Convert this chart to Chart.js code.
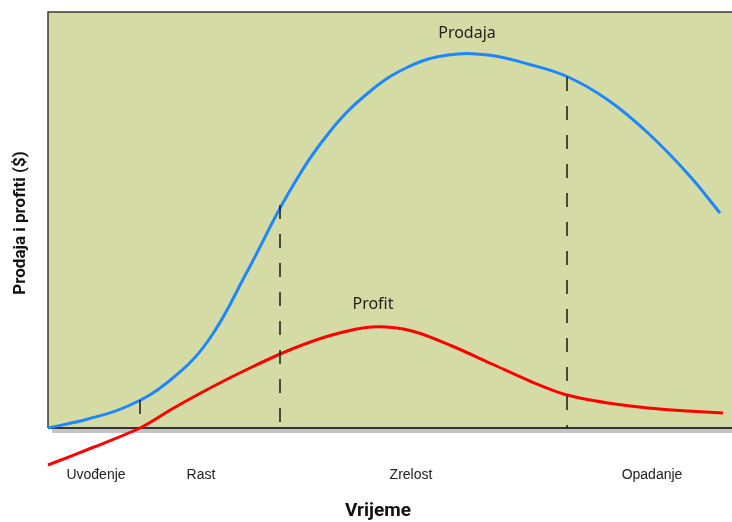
<!DOCTYPE html>
<html>
<head>
<meta charset="utf-8">
<script src="https://cdn.jsdelivr.net/npm/chart.js@4"></script>
<style>
html,body{margin:0;padding:0;background:#fff;}
#wrap{width:732px;height:522px;position:relative;}
</style>
</head>
<body>
<div id="wrap"><canvas id="c" width="732" height="522"></canvas></div>
<script>
// Sales (Prodaja) curve: time vs. value
const salesT = [0,40,80,120,160,200,240,280,320,360,400,440,480,520,560,600,640,672];
const salesV = [0,9,22,46,87,158,234,294,335,361,373,373,364,351,328,295,254,215];
// Profit curve
const profitT = [0,46,92,124,164,204,244,284,324,364,404,444,484,519,560,600,640,675];
const profitV = [-37,-19,0,19,41,61,79,93,101,97,82,64,46,33,25,20,17,15];
// Stage boundaries (dashed lines)
const boundaryT = [92, 232, 519];
const boundaryTop = [28, 223, 351];
// Stage labels
const stageLabels = ['Uvođenje', 'Rast', 'Zrelost', 'Opadanje'];
const stageLabelT = [48, 153, 363, 604];
// Series labels
const seriesLabels = ['Prodaja', 'Profit'];
const seriesLabelPos = [[419, 395], [325, 124]];
const xTitle = 'Vrijeme';
const yTitle = 'Prodaja i profiti ($)';

const pts = (xs, ys) => xs.map((x, i) => ({x: x, y: ys[i]}));

const datasets = [];
boundaryT.forEach((t, i) => {
  datasets.push({
    data: [{x: t, y: boundaryTop[i]}, {x: t, y: 0}],
    borderColor: '#1a1a1a', borderWidth: 1.5, borderDash: [14, 15],
    pointRadius: 0, tension: 0, clip: false
  });
});
datasets.push({
  data: pts(profitT, profitV), borderColor: '#ff0000', borderWidth: 3,
  pointRadius: 0, tension: 0.3, clip: false
});
datasets.push({
  data: pts(salesT, salesV), borderColor: '#1e87ff', borderWidth: 3,
  pointRadius: 0, tension: 0.4, clip: false
});

const decor = {
  id: 'decor',
  beforeDatasetsDraw(chart) {
    const {ctx, chartArea: a} = chart;
    ctx.save();
    ctx.fillStyle = '#d4dba5';
    ctx.fillRect(a.left, a.top, a.right - a.left, a.bottom - a.top);
    ctx.fillStyle = '#c4c4c4';
    ctx.fillRect(a.left + 4, a.bottom + 1, a.right - a.left, 4);
    ctx.strokeStyle = '#3a3a3a';
    ctx.lineWidth = 1.5;
    ctx.beginPath();
    ctx.moveTo(a.right, a.top); ctx.lineTo(a.left, a.top); ctx.lineTo(a.left, a.bottom);
    ctx.stroke();
    ctx.lineWidth = 2;
    ctx.strokeStyle = '#333';
    ctx.beginPath();
    ctx.moveTo(a.left, a.bottom); ctx.lineTo(a.right, a.bottom);
    ctx.stroke();
    ctx.restore();
  },
  afterDraw(chart) {
    const {ctx, chartArea: a, scales: {x, y}} = chart;
    ctx.save();
    ctx.fillStyle = '#222';
    ctx.textAlign = 'center';
    ctx.textBaseline = 'middle';
    ctx.font = '14px "Liberation Sans", Arial, sans-serif';
    stageLabels.forEach((s, i) => {
      ctx.fillText(s, x.getPixelForValue(stageLabelT[i]), a.bottom + 47);
    });
    ctx.font = '16px "Noto Sans", "Open Sans", sans-serif';
    seriesLabels.forEach((s, i) => {
      ctx.fillText(s, x.getPixelForValue(seriesLabelPos[i][0]), y.getPixelForValue(seriesLabelPos[i][1]));
    });
    ctx.fillStyle = '#111';
    ctx.font = 'bold 19px Roboto, "Liberation Sans", sans-serif';
    ctx.fillText(xTitle, a.left + 330, a.bottom + 83);
    ctx.translate(21, (a.top + a.bottom) / 2 + 3);
    ctx.rotate(-Math.PI / 2);
    ctx.font = 'bold 17px Roboto, "Liberation Sans", sans-serif';
    ctx.fillText(yTitle, 0, 0);
    ctx.restore();
  }
};

new Chart(document.getElementById('c'), {
  type: 'line',
  data: {datasets: datasets},
  options: {
    responsive: false,
    animation: false,
    devicePixelRatio: 1,
    layout: {padding: {left: 48, top: 12, right: 0, bottom: 94}},
    plugins: {legend: {display: false}, tooltip: {enabled: false}},
    scales: {
      x: {type: 'linear', min: 0, max: 684, display: false},
      y: {type: 'linear', min: 0, max: 416, display: false}
    }
  },
  plugins: [decor]
});
</script>
</body>
</html>
